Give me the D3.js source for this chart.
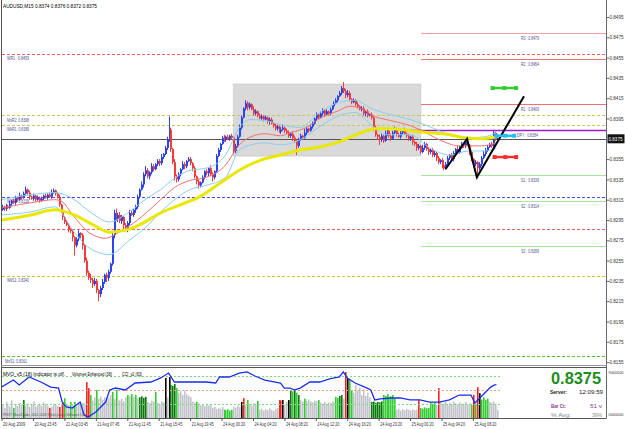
<!DOCTYPE html>
<html>
<head>
<meta charset="utf-8">
<script src="https://cdn.jsdelivr.net/npm/d3@7"></script>
<style>
body { margin: 0; background: #fff; }
svg { display: block; font-family: "Liberation Sans", Arial, sans-serif; }
</style>
</head>
<body>
<svg id="chart" width="625" height="429"></svg>
<script>
// AUDUSD M15, prices in pips (0.8375 -> 8375)
const firstOpen = 8305;
const closes = [
	8308,8306,8309,8307,8311,8314,8312,8317,8315,8319,
	8317,8321,8325,8322,8318,8316,8319,8315,8317,8314,
	8316,8319,8317,8320,8318,8322,8324,8321,8318,8310,
	8304,8298,8293,8290,8286,8284,8278,8270,8276,8282,
	8280,8270,8255,8243,8238,8236,8232,8235,8226,8222,
	8228,8234,8241,8238,8244,8252,8280,8302,8296,8300,
	8294,8298,8290,8286,8292,8302,8300,8305,8308,8318,
	8325,8330,8340,8344,8338,8342,8348,8345,8350,8353,
	8351,8357,8360,8366,8374,8384,8365,8352,8338,8335,
	8340,8345,8350,8348,8353,8355,8351,8346,8338,8333,
	8329,8332,8337,8343,8341,8346,8340,8337,8343,8358,
	8364,8370,8376,8374,8377,8375,8378,8376,8363,8368,
	8377,8386,8396,8405,8410,8406,8409,8404,8400,8402,
	8398,8395,8397,8394,8396,8392,8394,8390,8388,8385,
	8387,8382,8384,8386,8383,8381,8378,8380,8376,8373,
	8368,8374,8378,8376,8381,8385,8383,8387,8390,8395,
	8399,8396,8400,8403,8399,8402,8400,8404,8407,8410,
	8413,8417,8420,8425,8422,8418,8420,8414,8411,8413,
	8409,8407,8404,8405,8400,8402,8398,8399,8396,8386,
	8379,8377,8374,8378,8373,8380,8383,8378,8375,8381,
	8385,8379,8377,8381,8384,8380,8378,8375,8377,8372,
	8370,8366,8368,8362,8366,8370,8365,8362,8364,8359,
	8361,8356,8352,8354,8349,8346,8350,8356,8359,8355,
	8361,8365,8362,8366,8370,8368,8372,8369,8362,8355,
	8350,8352,8346,8350,8356,8360,8364,8367,8370,8368,
	8381,8374,8375
];
const wickUp = [
	2,1,2,1,3,1,2,2,1,3, 1,2,3,1,2,1,2,1,2,1, 2,1,2,1,2,3,2,1,1,2,
	1,2,1,2,1,1,2,1,2,3, 1,2,1,3,2,4,2,3,2,1, 2,3,1,2,2,1,2,3,4,2,
	3,2,1,2,2,3,2,1,2,2, 1,3,2,4,2,1,3,2,1,2, 2,3,1,2,3,13,2,1,3,2,
	2,1,3,2,1,2,2,1,2,1, 2,1,2,1,2,1,3,2,1,2, 2,1,2,3,1,2,1,2,1,2,
	2,3,2,1,3,2,2,1,3,2, 1,2,2,1,2,1,2,2,1,2, 2,1,2,3,1,2,2,1,2,2,
	1,2,2,1,4,2,1,2,2,1, 2,1,2,2,1,2,1,2,1,2, 2,1,2,2,6,2,3,2,1,2,
	1,2,1,2,2,1,2,1,2,1, 2,1,2,2,1,3,2,1,2,2, 2,1,2,3,1,2,1,2,1,2,
	1,2,2,1,3,2,1,2,1,2, 2,1,2,1,2,1,2,2,1,2, 2,1,3,2,2,1,2,3,1,2,
	1,2,1,2,2,3,2,2,1,2, 2,1,1
];
const wickDn = [
	1,2,2,1,1,2,1,2,2,1, 2,1,1,2,3,1,2,2,1,2, 1,2,1,2,1,2,1,2,2,2,
	2,3,2,1,3,2,4,10,2,2, 3,4,2,3,2,3,4,2,3,7, 3,2,2,4,3,2,2,3,2,3,
	2,3,4,2,3,2,1,2,3,2, 2,1,3,2,2,3,2,2,1,2, 3,2,2,1,2,2,3,2,4,3,
	2,2,1,3,2,1,2,3,2,3, 3,2,1,2,2,3,2,4,2,2, 1,2,1,2,2,1,2,1,3,2,
	2,1,2,1,2,3,2,1,2,2, 2,1,2,2,1,2,3,1,2,2, 2,1,2,1,2,1,2,2,3,2,
	9,2,1,2,1,2,2,1,2,1, 2,2,1,2,2,1,2,2,1,2, 1,2,1,2,2,3,2,2,2,1,
	2,2,1,2,2,3,2,1,2,3, 2,3,5,2,2,1,2,2,2,1, 2,2,1,2,2,1,2,2,2,3,
	2,3,2,2,1,2,2,3,2,2, 2,3,2,2,3,2,1,2,2,1, 2,2,1,2,1,2,2,1,3,2,
	3,2,8,2,2,1,2,2,1,2, 2,1,2
];

// indicator lines: [bar index, price in pips]
const maSlow = [[0,8295],[15,8300],[27,8305],[37,8300],[45,8292],[55,8283],[63,8285],[70,8290],[81,8302],[91,8310],[101,8318],[111,8331],[121,8344],[132,8354],[142,8359],[152,8364],[162,8367],[172,8372],[183,8381],[190,8385],[198,8385],[208,8383],[218,8381],[228,8379],[236,8376],[244,8375],[252,8377]];
const maFast = [[0,8307],[15,8312],[27,8315],[30,8314],[37,8298],[45,8282],[53,8277],[58,8281],[65,8289],[73,8301],[81,8315],[88,8327],[96,8334],[104,8337],[114,8349],[121,8369],[127,8377],[134,8380],[142,8378],[147,8381],[155,8386],[162,8395],[172,8403],[177,8407],[183,8405],[190,8397],[198,8393],[208,8388],[213,8384],[223,8374],[233,8368],[244,8368],[252,8371]];
const bandUp = [[0,8315],[15,8320],[27,8322],[37,8315],[45,8303],[55,8293],[65,8303],[73,8315],[81,8325],[88,8336],[96,8344],[104,8346],[114,8359],[121,8386],[127,8394],[134,8393],[142,8389],[152,8386],[162,8401],[172,8411],[180,8413],[188,8405],[196,8400],[208,8394],[218,8387],[228,8379],[238,8376],[246,8377],[252,8381]];
const bandDn = [[0,8300],[15,8303],[27,8308],[37,8283],[45,8267],[55,8261],[65,8275],[73,8287],[81,8303],[88,8315],[96,8325],[104,8329],[114,8337],[121,8364],[127,8369],[134,8371],[142,8369],[152,8374],[162,8387],[172,8398],[180,8401],[188,8389],[196,8379],[208,8379],[218,8366],[228,8359],[238,8363],[246,8363],[252,8366]];

// sub window
const volumes = [
	28,22,35,30,25,38,22,30,26,33, 29,39,27,32,24,30,36,25,28,31, 26,34,30,27,22,25,30,28,26,24,
	31,35,43,30,28,35,30,35,26,31, 28,33,30,78,65,50,38,45,61,42, 47,40,45,38,44,50,57,42,61,40,
	38,42,36,45,50,48,52,46,50,44, 45,47,44,46,35,32,38,36,57,33, 30,36,34,87,45,89,72,70,74,65,
	55,58,50,60,52,48,45,36,33,35, 32,28,30,26,29,27,30,22,24,20, 22,20,24,18,17,19,16,18,25,23,
	27,24,35,43,28,39,30,27,32,29, 37,18,20,16,19,17,21,18,15,20, 22,39,38,39,30,35,39,61,58,62,
	55,50,39,35,42,38,40,36,34,38, 37,39,33,31,35,30,34,32,36,33, 46,44,48,50,42,100,87,83,61,55,
	72,60,66,50,62,48,55,45,35,36, 33,35,34,36,50,48,52,45,47,50, 42,18,20,16,19,17,20,18,16,19,
	17,18,39,22,20,23,21,22,33,31, 34,28,65,34,30,32,35,28,33,30, 36,32,29,34,31,30,35,28,32,28,
	50,30,67,54,40,45,39,42,35,33, 36,30,18
];
// 0 normal, 1 high, 2 higher, 3 climax, 4 churn
const volumeKind = [
	0,0,0,0,0,0,1,0,0,0, 0,2,0,0,0,0,0,0,0,0, 0,0,0,0,4,0,0,0,0,4,
	0,4,1,0,0,1,0,1,0,0, 0,0,0,4,4,1,0,0,1,0, 0,0,0,0,0,0,1,0,1,0,
	0,0,0,0,1,0,1,0,1,0, 2,2,2,2,0,0,0,0,1,0, 0,0,0,3,0,3,2,2,2,1,
	0,0,0,0,0,0,0,0,0,1, 0,0,0,0,0,0,0,0,0,0, 0,0,0,1,1,1,1,1,0,0,
	0,0,3,4,0,1,0,0,0,0, 1,0,0,0,0,0,0,0,0,0, 0,4,4,3,0,0,3,2,1,2,
	1,2,0,0,1,0,0,0,0,0, 0,1,0,0,0,0,0,0,0,0, 1,1,2,2,0,4,3,1,1,0,
	0,0,0,0,0,0,0,0,2,2, 2,2,2,2,1,1,1,1,1,1, 1,0,0,0,0,0,0,0,0,0,
	0,0,4,1,1,1,1,1,1,1, 1,0,4,0,0,0,0,0,0,0, 0,0,0,0,0,0,0,0,0,1,
	4,1,4,3,1,1,1,1,0,0, 0,0,0
];
const cci = [[0,21],[6,71],[9,36],[14,93],[20,57],[25,21],[29,14],[31,-93],[33,-121],[36,-129],[40,-86],[42,-179],[44,-193],[48,-157],[50,-129],[53,-86],[55,0],[58,14],[63,0],[68,50],[76,57],[81,86],[85,121],[88,57],[96,57],[104,57],[109,50],[111,93],[116,93],[121,121],[125,129],[129,100],[134,71],[142,50],[144,14],[147,14],[149,0],[152,14],[157,57],[162,57],[167,79],[172,93],[174,129],[176,86],[180,50],[185,21],[188,0],[190,-71],[193,-64],[198,-57],[203,-57],[208,-71],[213,-71],[218,-86],[223,-86],[228,-71],[233,-36],[239,-36],[241,-93],[244,-50],[246,-21],[249,21],[251,36],[252,36]];
const cciLevels = [100, 0, -100];

// levels
const pivotNames = ["R3", "R2", "R1", "DPY", "S1", "S2", "S3"];
const pivotValues = [0.8479, 0.8454, 0.8409, 0.8384, 0.8339, 0.8314, 0.8269];
const periodNames = ["WR1", "MnR2", "WkR1", "WkPP", "", "WkS1", "MnS1"];
const periodValues = [0.8459, 0.8398, 0.8389, 0.8318, 0.8286, 0.8240, 0.8161];

// drawn objects
const zigzag = [[226,8345],[237,8375],[242,8337],[266,8417]];
const markers = [[250, 262, 8425], [252, 261, 8378], [251, 262, 8357]];
const boxBars = [118, 213.5];
const boxPrices = [8429, 8358];

const priceTicks = [0.8495,0.8475,0.8455,0.8435,0.8415,0.8395,0.8355,0.8335,0.8315,0.8295,0.8275,0.8255,0.8235,0.8215,0.8195,0.8175,0.8155];
const lastPrice = 0.8375;
const timeIdx = [0,16,32,48,64,80,96,112,128,144,160,176,192,208,224,240];
const timeLabels = ["20 Aug 2009","20 Aug 23:45","21 Aug 03:45","21 Aug 07:45","21 Aug 11:45","21 Aug 15:45","21 Aug 19:45","24 Aug 00:20","24 Aug 04:20","24 Aug 08:20","24 Aug 12:20","24 Aug 16:20","24 Aug 20:20","25 Aug 00:20","25 Aug 04:20","25 Aug 08:20"];

const svg = d3.select('#chart');
const W = 625, axisX = 606.5, mainBottom = 365, subTop = 367, subBottom = 418;

const x = d3.scaleLinear().domain([0, 252]).range([1.6, 496.5]);
const y = d3.scaleLinear().domain([0.8155, 0.8495]).range([362.1, 17]);
const py = (p) => y(p / 10000);
const vy = d3.scaleLinear().domain([0, 100]).range([subBottom, 372]);
const cy = d3.scaleLinear().domain([-200, 200]).range([418, 362]);

function label(parent, tx, ty, str, size, fill, opts = {}) {
	const t = parent.append('text').attr('x', tx).attr('y', ty)
		.attr('font-size', size).attr('fill', fill).text(str);
	if (opts.len) t.attr('textLength', opts.len).attr('lengthAdjust', 'spacingAndGlyphs');
	if (opts.bold) t.attr('font-weight', 'bold');
	return t;
}

svg.append('rect').attr('width', W).attr('height', 429).attr('fill', '#fff');

svg.append('defs').append('clipPath').attr('id', 'mainClip')
	.append('rect').attr('x', 2).attr('y', 0).attr('width', axisX - 2).attr('height', mainBottom);
svg.select('defs').append('clipPath').attr('id', 'subClip')
	.append('rect').attr('x', 2).attr('y', subTop + 1).attr('width', axisX - 2).attr('height', subBottom - subTop - 1);

const main = svg.append('g').attr('clip-path', 'url(#mainClip)');

// rectangle object
main.append('rect')
	.attr('x', x(boxBars[0])).attr('y', py(boxPrices[0]))
	.attr('width', x(boxBars[1]) - x(boxBars[0]))
	.attr('height', py(boxPrices[1]) - py(boxPrices[0]))
	.attr('fill', '#d9d9d9').attr('stroke', '#bbb').attr('stroke-dasharray', '1,1');

// period pivots, full width dashed
const periodColors = ['#f06060', '#c8c860', '#c8c860', '#4a4af0', '#f06060', '#c8c832', '#5cbf2a'];
periodValues.forEach((v, k) => {
	main.append('line')
		.attr('x1', 2).attr('x2', axisX)
		.attr('y1', Math.round(y(v)) + 0.5).attr('y2', Math.round(y(v)) + 0.5)
		.attr('stroke', periodColors[k]).attr('stroke-dasharray', '3,2');
	if (periodNames[k]) {
		label(main, k === 6 ? 5 : 7, y(v) + 6.5,
			`${periodNames[k]}${k === 0 ? ' : ' : ':  '}${v.toFixed(4)}`, 5, '#4b4b8f', { len: 22 });
	}
});

// bid line
main.append('line')
	.attr('x1', 2).attr('x2', axisX)
	.attr('y1', Math.round(y(lastPrice)) + 0.5).attr('y2', Math.round(y(lastPrice)) + 0.5)
	.attr('stroke', '#555');

// daily pivots
const pivotColors = ['#f5a0a0', '#f07070', '#f07070', '#9a1acd', '#a8e6a0', '#a8e6a0', '#a8e6a0'];
pivotValues.forEach((v, k) => {
	const yy = Math.round(y(v)) + 0.5;
	main.append('line')
		.attr('x1', k === 3 ? 400 : 421).attr('x2', axisX)
		.attr('y1', yy).attr('y2', yy)
		.attr('stroke', pivotColors[k]).attr('stroke-width', k === 3 ? 1.5 : 1.2);
	label(main, k === 3 ? 517 : 521, yy + 6, `${pivotNames[k]} : ${v.toFixed(4)}`, 5, '#4b4b8f', { len: k === 3 ? 21 : 18 });
});

// candles
const bars = closes.map((c, i) => {
	const o = i ? closes[i - 1] : firstOpen;
	return { i, o, c, h: Math.max(o, c) + wickUp[i], l: Math.min(o, c) - wickDn[i] };
});
const candle = main.append('g').selectAll('g').data(bars).enter().append('g');
candle.append('line')
	.attr('x1', d => Math.round(x(d.i)) + 0.5).attr('x2', d => Math.round(x(d.i)) + 0.5)
	.attr('y1', d => py(d.h)).attr('y2', d => py(d.l))
	.attr('stroke', d => d.c >= d.o ? '#2a44f0' : '#f03c3c');
candle.append('rect')
	.attr('x', d => Math.round(x(d.i)))
	.attr('y', d => py(Math.max(d.o, d.c)))
	.attr('width', 2)
	.attr('height', d => Math.max(1, py(Math.min(d.o, d.c)) - py(Math.max(d.o, d.c))))
	.attr('fill', d => d.c >= d.o ? '#2a44f0' : '#f03c3c');

// moving averages
const maLine = d3.line().x(d => x(d[0])).y(d => py(d[1])).curve(d3.curveMonotoneX);
[[bandUp, '#8ccdf0', 1], [bandDn, '#8ccdf0', 1], [maFast, '#f07070', 1], [maSlow, '#e8e800', 3]].forEach(([pts, col, sw]) => {
	main.append('path').datum(pts).attr('d', maLine)
		.attr('fill', 'none').attr('stroke', col).attr('stroke-width', sw);
});

// drawn objects
main.append('path').datum(zigzag)
	.attr('d', d3.line().x(d => x(d[0])).y(d => py(d[1])))
	.attr('fill', 'none').attr('stroke', '#000').attr('stroke-width', 2);
const markerColors = ['#33cc33', '#20c0f0', '#f03030'];
markers.forEach(([a, b, p], k) => {
	const g = main.append('g');
	g.append('line').attr('x1', x(a)).attr('x2', x(b)).attr('y1', py(p)).attr('y2', py(p))
		.attr('stroke', markerColors[k]).attr('stroke-width', 2.5);
	[a, (a + b) / 2, b].forEach(t => g.append('rect')
		.attr('x', x(t) - 2).attr('y', py(p) - 2).attr('width', 4).attr('height', 4)
		.attr('fill', markerColors[k]));
});

label(main, 3, 8, 'AUDUSD,M15  0.8374 0.8376 0.8372 0.8375', 5, '#000', { len: 94 });

// sub window
const sub = svg.append('g').attr('clip-path', 'url(#subClip)');
const volColors = ['#c4c4cc', '#33cc33', '#0a7a0a', '#000000', '#ff2020'];
sub.selectAll('rect.vol').data(volumes).enter().append('rect')
	.attr('class', 'vol')
	.attr('x', (d, i) => Math.round(x(i)))
	.attr('y', d => vy(d))
	.attr('width', 1.6)
	.attr('height', d => subBottom - vy(d))
	.attr('fill', (d, i) => volColors[volumeKind[i]]);
const levelColors = ['#77dd77', '#f0a080', '#77dd77'];
cciLevels.forEach((v, k) => {
	sub.append('line').attr('x1', 2).attr('x2', 500)
		.attr('y1', Math.round(cy(v)) + 0.5).attr('y2', Math.round(cy(v)) + 0.5)
		.attr('stroke', levelColors[k]).attr('stroke-dasharray', '2,2');
});
sub.append('path').datum(cci)
	.attr('d', d3.line().x(d => x(d[0])).y(d => cy(d[1])))
	.attr('fill', 'none').attr('stroke', '#1a2ee8').attr('stroke-width', 1.3);

label(svg, 3, 376, 'MVO_v5 (18) Indicator is off.', 4.6, '#000', { len: 62 });
label(svg, 72, 376, 'Volumes Enhanced (38)', 4.6, '#000', { len: 40 });
label(svg, 122, 376, 'CCI_v2 (63)', 4.6, '#000', { len: 20 });
label(svg, 3, 416, 'PRO© MetaTrader, 2001-2009 MetaQuotes Software Corp.', 4, '#555', { len: 85 });

// info panel
label(svg, 551, 384, '0.8375', 17, '#1e8c1e', { bold: true, len: 50 });
label(svg, 550, 394, 'Server:', 6, '#222', { bold: true, len: 17 });
label(svg, 579, 394, '12:09:59', 6, '#222', { len: 24 });
label(svg, 551, 408, 'Bar Ct:', 6, '#8a3a9a', { bold: true, len: 15 });
label(svg, 590, 408, '51 v', 6, '#8a3a9a', { len: 12 });
label(svg, 551, 417, '% Avg:', 6, '#888', { len: 20 });
label(svg, 592, 417, '39%', 6, '#888', { len: 10 });

// frame
svg.append('line').attr('x1', 1.5).attr('x2', 1.5).attr('y1', 0).attr('y2', subBottom).attr('stroke', '#555');
svg.append('line').attr('x1', axisX).attr('x2', axisX).attr('y1', 0).attr('y2', subBottom).attr('stroke', '#667');
svg.append('line').attr('x1', 1).attr('x2', axisX).attr('y1', mainBottom + 0.5).attr('y2', mainBottom + 0.5).attr('stroke', '#999');
svg.append('line').attr('x1', 1).attr('x2', axisX).attr('y1', subTop + 0.5).attr('y2', subTop + 0.5).attr('stroke', '#555');
svg.append('line').attr('x1', 1).attr('x2', axisX).attr('y1', subBottom + 0.5).attr('y2', subBottom + 0.5).attr('stroke', '#555');

// price axis
const yAxis = svg.append('g').attr('transform', `translate(${axisX},0)`)
	.call(d3.axisRight(y).tickValues(priceTicks).tickFormat(d3.format('.4f')).tickSize(3).tickPadding(0));
yAxis.select('.domain').remove();
yAxis.selectAll('text').attr('font-size', 5).attr('fill', '#333')
	.attr('textLength', 14).attr('lengthAdjust', 'spacingAndGlyphs')
	.attr('font-family', '"Liberation Sans", Arial, sans-serif');
yAxis.selectAll('line').attr('stroke', '#667');

svg.append('rect').attr('x', axisX + 1).attr('y', y(lastPrice) - 4.5).attr('width', 17).attr('height', 9).attr('fill', '#111');
label(svg, axisX + 2, y(lastPrice) + 2, lastPrice.toFixed(4), 5, '#fff', { len: 14 });

label(svg, axisX + 2, 374, '9000000', 4, '#333', { len: 15 });
label(svg, axisX + 2, 416, '0000000', 4, '#333', { len: 15 });

// time axis
const xAxis = svg.append('g').attr('transform', `translate(0,${subBottom})`)
	.call(d3.axisBottom(x).tickValues(timeIdx).tickFormat((d, k) => timeLabels[k]).tickSize(3).tickPadding(2));
xAxis.select('.domain').remove();
xAxis.selectAll('text').attr('text-anchor', 'start').attr('dx', 1).attr('font-size', 4.8).attr('fill', '#333')
	.attr('textLength', 22).attr('lengthAdjust', 'spacingAndGlyphs')
	.attr('font-family', '"Liberation Sans", Arial, sans-serif');
xAxis.selectAll('line').attr('stroke', '#555');
</script>
</body>
</html>
